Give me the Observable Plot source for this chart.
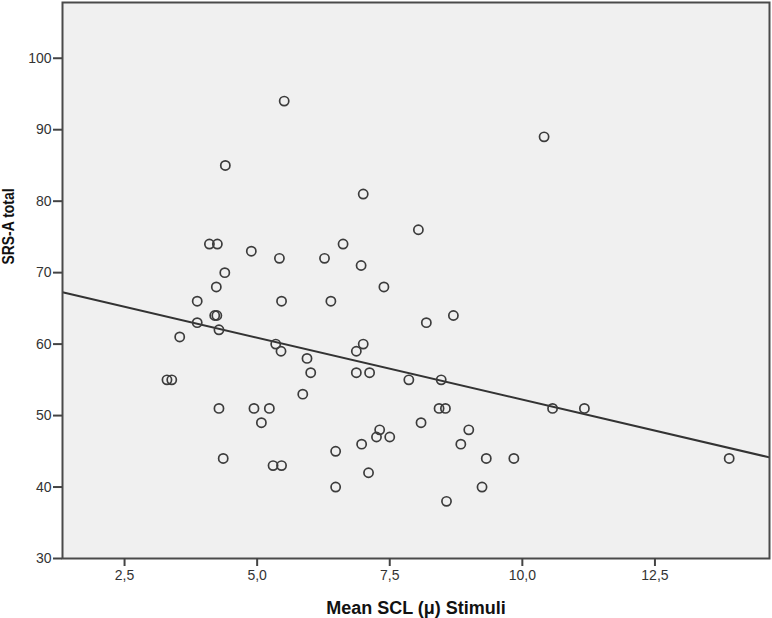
<!DOCTYPE html>
<html>
<head>
<meta charset="utf-8">
<script src="https://cdn.jsdelivr.net/npm/d3@7"></script>
<script src="https://cdn.jsdelivr.net/npm/@observablehq/plot@0.6"></script>
<style>
  html, body { margin: 0; padding: 0; background: #fff; }
  #chart svg { display: block; font-family: "Liberation Sans", Arial, sans-serif; }
</style>
</head>
<body>
<div id="chart"></div>
<script>
// Mean SCL (μ) during stimuli
const scl = [4.40, 4.10, 4.25, 4.89, 5.42, 6.27, 6.62, 4.39, 4.23, 3.87,
             5.46, 6.39, 4.20, 4.24, 3.87, 4.28, 3.54, 5.35, 5.45, 5.94,
             6.01, 3.30, 3.39, 5.86, 4.28, 4.94, 5.23, 5.08, 6.48, 4.36,
             5.30, 5.46, 6.48, 7.00, 8.04, 6.96, 7.39, 8.70, 8.19, 7.00,
             6.87, 6.87, 7.12, 7.86, 8.47, 8.43, 8.55, 8.09, 7.31, 7.25,
             7.50, 8.99, 6.97, 8.84, 9.32, 9.84, 7.10, 9.24, 8.57, 5.51,
             10.41, 10.57, 11.17, 13.90];
// SRS-A total score
const srs = [85, 74, 74, 73, 72, 72, 74, 70, 68, 66,
             66, 66, 64, 64, 63, 62, 61, 60, 59, 58,
             56, 55, 55, 53, 51, 51, 51, 49, 45, 44,
             43, 43, 40, 81, 76, 71, 68, 64, 63, 60,
             59, 56, 56, 55, 55, 51, 51, 49, 48, 47,
             47, 48, 46, 46, 44, 44, 42, 40, 38, 94,
             89, 51, 51, 44];
const xTicks = [2.5, 5.0, 7.5, 10.0, 12.5];
const yTicks = [30, 40, 50, 60, 70, 80, 90, 100];
const xDomain = [1.33, 14.66];
const yDomain = [30, 107.8];

const points = scl.map((x, i) => ({x, y: srs[i]}));

// Ordinary least squares fit line (total)
const mx = d3.mean(scl), my = d3.mean(srs);
const slope = d3.sum(scl, (x, i) => (x - mx) * (srs[i] - my)) / d3.sum(scl, x => (x - mx) ** 2);
const intercept = my - slope * mx;
const fit = xDomain.map(x => ({x, y: intercept + slope * x}));

const chart = Plot.plot({
  width: 772,
  height: 618,
  marginLeft: 62,
  marginTop: 2,
  marginRight: 3,
  marginBottom: 60,
  style: {fontFamily: "'Liberation Sans', Arial, sans-serif", background: "#ffffff"},
  x: {domain: xDomain},
  y: {domain: yDomain},
  marks: [
    Plot.frame({fill: "#f0f0f0", stroke: null}),
    Plot.line(fit, {x: "x", y: "y", stroke: "#333", strokeWidth: 2, clip: true}),
    Plot.dot(points, {x: "x", y: "y", r: 4.6, stroke: "#3c3c3c", strokeWidth: 1.7, fill: "none"}),
    Plot.frame({stroke: "#4a4a4a", strokeWidth: 2}),
    Plot.axisX({ticks: xTicks, tickFormat: d => d.toFixed(1).replace(".", ","), tickSize: 8, tickPadding: 4,
                fontSize: 14, label: null, stroke: "#444", strokeWidth: 2, fill: "#333"}),
    Plot.axisY({ticks: yTicks, tickSize: 9, tickPadding: 2,
                fontSize: 14, label: null, stroke: "#444", strokeWidth: 2, fill: "#333"}),
    Plot.text(["Mean SCL (μ) Stimuli"], {frameAnchor: "bottom", dy: 50, lineAnchor: "middle",
                fontSize: 18, fontWeight: "bold", fill: "#111"}),
    Plot.text(["SRS-A total"], {frameAnchor: "left", dx: -53.5, dy: -16, rotate: -90, lineAnchor: "middle",
                fontSize: 17, fontWeight: "bold", fill: "#111"})
  ]
});

// the y title in the reference is horizontally compressed
chart.querySelectorAll("text").forEach(t => {
  if (t.textContent === "SRS-A total") {
    t.setAttribute("textLength", "76");
    t.setAttribute("lengthAdjust", "spacingAndGlyphs");
  }
});

document.getElementById("chart").appendChild(chart);
</script>
</body>
</html>
